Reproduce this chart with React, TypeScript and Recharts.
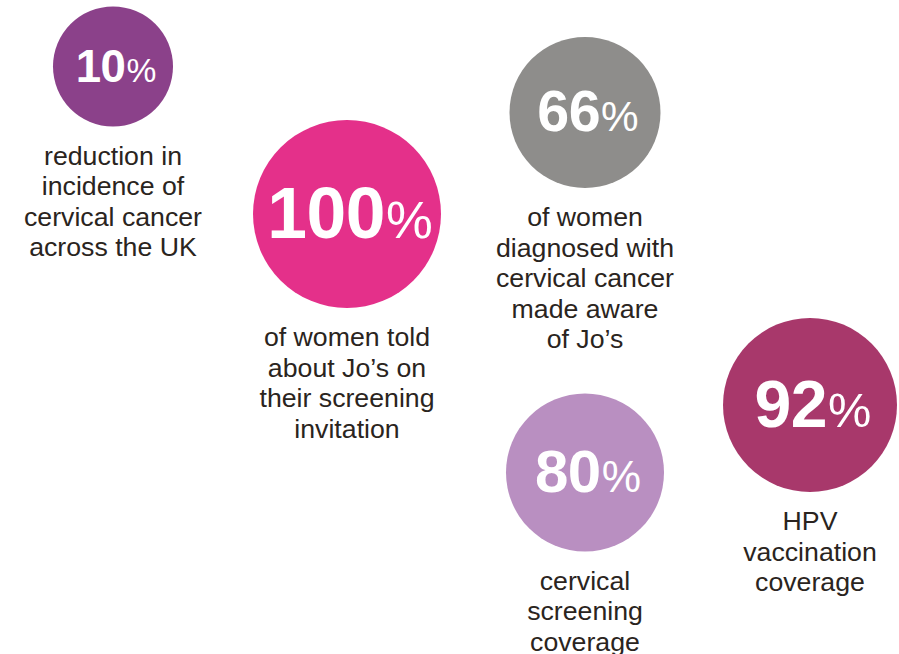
import { ScatterChart, Scatter, XAxis, YAxis } from "recharts";

// headline figures
const values = [10, 100, 66, 80, 92];
const captions = [
  ["reduction in", "incidence of", "cervical cancer", "across the UK"],
  ["of women told", "about Jo’s on", "their screening", "invitation"],
  ["of women", "diagnosed with", "cervical cancer", "made aware", "of Jo’s"],
  ["cervical", "screening", "coverage"],
  ["HPV", "vaccination", "coverage"],
];

// layout of the bubbles on the page (chart units = px)
const layoutX = [113, 347, 585, 585, 810];
const layoutY = [66.5, 214, 112.5, 472.5, 405];
const radii = [60, 94, 75.5, 79, 87];
const palette = ["#8B418A", "#E4308A", "#8E8D8B", "#B98FC1", "#A8386B"];

const WIDTH = 899;
const HEIGHT = 654;
const TEXT = "#2A2420";
const FONT = "'Liberation Sans', Arial, Helvetica, sans-serif";

const data = values.map((v, i) => ({
  x: layoutX[i],
  y: layoutY[i],
  value: v,
  r: radii[i],
  color: palette[i],
  lines: captions[i],
}));

function Bubble(props: any) {
  const { cx, cy, payload } = props;
  const r = payload.r;
  const lines: string[] = payload.lines;
  return (
    <g>
      <circle cx={cx} cy={cy} r={r} fill={payload.color} />
      <text
        x={cx + 3}
        y={cy + r * 0.25}
        textAnchor="middle"
        fill="#ffffff"
        fontFamily={FONT}
        fontWeight="bold"
      >
        <tspan fontSize={r * 0.76} letterSpacing={-0.5}>
          {payload.value}
        </tspan>
        <tspan fontSize={r * 0.56} fontWeight="normal" dx={1}>
          %
        </tspan>
      </text>
      {lines.map((line, i) => (
        <text
          key={i}
          x={cx}
          y={cy + r + 38 + i * 30.5}
          textAnchor="middle"
          fill={TEXT}
          fontFamily={FONT}
          fontSize={26.7}
        >
          {line}
        </text>
      ))}
    </g>
  );
}

export default function App() {
  return (
    <div style={{ position: "absolute", left: 0, top: 0, background: "#fff" }}>
      <ScatterChart
        width={WIDTH}
        height={HEIGHT}
        margin={{ top: 0, right: 0, bottom: 0, left: 0 }}
      >
        <XAxis type="number" dataKey="x" domain={[0, WIDTH]} hide />
        <YAxis type="number" dataKey="y" domain={[0, HEIGHT]} reversed hide />
        <Scatter data={data} shape={Bubble} isAnimationActive={false} />
      </ScatterChart>
    </div>
  );
}
